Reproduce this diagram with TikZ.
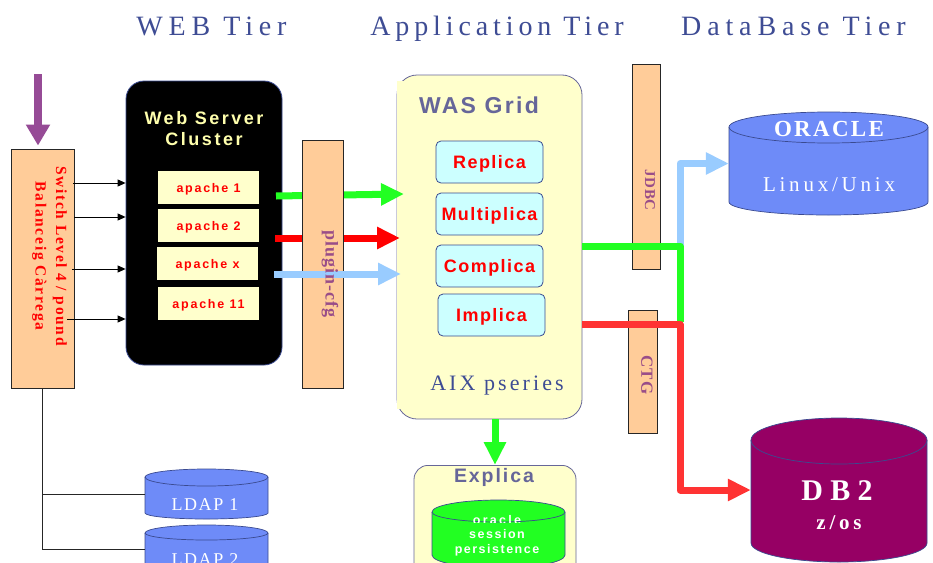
\documentclass[tikz,border=0pt]{standalone}
\usepackage{fontspec}
\setmainfont{Liberation Serif}
\setsansfont{Liberation Sans}
\usetikzlibrary{arrows.meta,calc}
\definecolor{peach}{HTML}{FFCC99}
\definecolor{paleyellow}{HTML}{FFFFCC}
\definecolor{palecyan}{HTML}{CCFFFF}
\definecolor{fatgreen}{HTML}{22FF22}
\definecolor{fatred}{HTML}{FF0000}
\definecolor{dbred}{HTML}{FF3333}
\definecolor{fatblue}{HTML}{99CCFF}
\definecolor{inpurple}{HTML}{964B96}
\definecolor{dbpurple}{HTML}{960064}
\definecolor{ldapblue}{HTML}{6E8BF8}
\definecolor{titleblue}{HTML}{3E4C94}
\definecolor{slate}{HTML}{666699}
\definecolor{edgeblue}{HTML}{3A4A90}
\definecolor{plumtext}{HTML}{994D88}
\newcommand\sansT[2]{\sffamily\bfseries\fontsize{#1}{#1}\selectfont\addfontfeatures{LetterSpace=#2}}
\newcommand\serifT[2]{\rmfamily\fontsize{#1}{#1}\selectfont\addfontfeatures{LetterSpace=#2}}
\newcommand\serifB[2]{\rmfamily\bfseries\fontsize{#1}{#1}\selectfont\addfontfeatures{LetterSpace=#2}}
% name, x1, x2, ytop, ycentre, yfront, yside, ybottom, fill
\newcommand\dbcyl[9]{%
  \pgfmathsetmacro\cylrx{(#3-#2)/2}%
  \pgfmathsetmacro\cylrt{#5-#4}%
  \pgfmathsetmacro\cylrf{#6-#5}%
  \pgfmathsetmacro\cylrb{#8-#7}%
  \path[cylline,fill=#9] (#2,#5) arc[start angle=180,end angle=0,x radius=\cylrx pt,y radius=\cylrt pt]
    -- (#3,#7) arc[start angle=0,end angle=-180,x radius=\cylrx pt,y radius=\cylrb pt] -- cycle;
  \path[cylline] (#2,#5) arc[start angle=180,end angle=360,x radius=\cylrx pt,y radius=\cylrf pt];
  \path (#2,#4) -- (#3,#8) node[midway,inner sep=0pt,minimum width=#3pt-#2pt,minimum height=#8pt-#4pt] (#1) {};
}
\tikzset{
  cylline/.style={draw=edgeblue,line width=0.7pt},
  title/.style={inner sep=0pt,anchor=base,text=titleblue},
  peachbar/.style={draw=black!85,line width=0.9pt,fill=peach,inner sep=0pt},
  apachebox/.style={fill=paleyellow,inner sep=0pt,minimum width=101pt,minimum height=33pt,text height=9pt,text depth=0pt,text=red,font=\sansT{12.5}{14}},
  wasbox/.style={draw=edgeblue,line width=0.8pt,fill=palecyan,rounded corners=5pt,inner sep=0pt,minimum width=107pt,minimum height=42pt,text height=13pt,text depth=0pt,text=red,font=\sansT{18}{8}},
  thinarrow/.style={draw=black,line width=0.9pt,-{Triangle[length=8pt,width=7pt]}},
  fatarrow/.style={line width=7pt,line join=round,-{Triangle[length=23pt,width=21pt]}},
  plainline/.style={draw=black!85,line width=1pt},
  lbl/.style={inner sep=0pt},
}
\begin{document}
\begin{tikzpicture}[x=1pt,y=-1pt]
\useasboundingbox (0,0) rectangle (933,562);
\clip (0,0) rectangle (933,562);
\fill[white] (0,0) rectangle (933,562);

% titles
\node[title,font=\serifT{28}{21}] (t1) at (211.5,35) {WEB Tier};
\node[title,font=\serifT{28}{17.5}] (t2) at (497,35) {Application Tier};
\node[title,font=\serifT{28}{21}] (t3) at (793.5,35) {DataBase Tier};

% switch
\node[peachbar,minimum width=62.5pt,minimum height=239pt] (switch) at (42.75,268.5) {};
\node[lbl,rotate=-90,align=center,text=red,font=\serifB{15.5}{11}] (swtxt) at (49.5,256) {Switch Level 4 / pound\\[5pt]Balanceig Càrrega};
\coordinate (entry) at (38,74);
\draw[line width=8pt,draw=inpurple,shorten >=3pt,-{Triangle[length=21pt,width=23pt]}] (entry) -- (entry |- switch.north);

% web cluster
\node[draw=edgeblue,line width=0.8pt,fill=black,rounded corners=18pt,minimum width=156pt,minimum height=284pt,inner sep=0pt] (cluster) at (204,223) {};
\node[lbl,align=center,text=paleyellow!85!yellow,font=\sansT{18}{14}] (cltxt) at (204,129) {Web Server\\[3pt]Cluster};
\node[apachebox] (a1) at (208.5,187.5) {apache 1};
\node[apachebox] (a2) at (208.5,225.5) {apache 2};
\node[apachebox] (a3) at (207.5,263.5) {apache x};
\node[apachebox] (a4) at (208.5,303.5) {apache 11};

% thin arrows
\coordinate (s1) at (73,183);
\coordinate (s2) at (74,217);
\coordinate (s3) at (72,269);
\coordinate (s4) at (67,319);
\draw[thinarrow] (s1) -- (s1 -| cluster.west);
\draw[thinarrow] (s2) -- (s2 -| cluster.west);
\draw[thinarrow] (s3) -- (s3 -| cluster.west);
\draw[thinarrow] (s4) -- (s4 -| cluster.west);

% was grid
\node[draw=slate,line width=0.8pt,fill=paleyellow,rounded corners=20pt,minimum width=185pt,minimum height=344pt,inner sep=0pt] (was) at (489.5,247) {};
\fill[paleyellow] (396.5,81) rectangle (412,409);
\node[lbl,text=slate,font=\sansT{23}{10}] (wastxt) at (479,105) {WAS Grid};
\node[wasbox] (b1) at (489.5,162) {Replica};
\node[wasbox] (b2) at (489.5,214) {Multiplica};
\node[wasbox] (b3) at (489.5,266) {Complica};
\node[wasbox] (b4) at (491.5,315) {Implica};
\node[lbl,text=titleblue,font=\serifT{22}{14}] (aix) at (497,386) {AIX pseries};

% fat arrows web to was (red and green pass behind the plugin bar)
\coordinate (g0) at (276,196);
\coordinate (g1) at (404,194);
\coordinate (r0) at (275,238);
\coordinate (r1) at (400,238);
\coordinate (u0) at (274,274);
\coordinate (u1) at (401,274);
\draw[fatarrow,fatgreen] (g0) -- (g1);
\draw[fatarrow,fatred] (r0) -- (r1);
\node[peachbar,minimum width=41pt,minimum height=248pt] (plugin) at (322.5,264) {};
\draw[fatarrow,fatblue] (u0) -- (u1);
\node[lbl,rotate=-90,text=plumtext,font=\serifB{18}{6}] (plugtxt) at (330,274) {plugin-cfg};

% jdbc / ctg
\node[peachbar,minimum width=28pt,minimum height=205pt] (jdbc) at (646,166.5) {};
\node[lbl,rotate=-90,text=plumtext,font=\serifB{15}{4}] (jdbctxt) at (650,190) {JDBC};
\node[peachbar,minimum width=29pt,minimum height=123pt] (ctg) at (642.5,371.5) {};
\node[lbl,rotate=-90,text=plumtext,font=\serifB{17}{5}] (ctgtxt) at (647,375) {CTG};

% databases
\dbcyl{oracle}{729}{928}{112}{127}{143}{202}{215}{ldapblue}
\node[lbl,text=white,font=\serifB{23}{10}] (oratxt) at (829,129) {ORACLE};
\node[lbl,text=white,font=\serifT{21}{18}] (linux) at (829,185) {Linux/Unix};
\dbcyl{db2}{751}{927}{418}{440}{464}{543}{562}{dbpurple}
\node[lbl,text=white,font=\serifB{30}{24}] (dbtxt) at (837,491) {DB2};
\node[lbl,text=white,font=\serifB{21}{18}] (zos) at (839,523) {z/os};

% fat connectors to databases
\coordinate (gs) at (was.east |- 0,246);
\coordinate (rs) at (was.east |- 0,324);
\coordinate (gj) at (680,246);
\coordinate (rj) at (680,324);
\draw[fatarrow,fatblue] (gj) -- (gj |- oracle.west) -- (oracle.west);
\draw[line width=7pt,line join=round,fatgreen] (gs) -- (gj) -- ($(rj)+(0,-2)$);
\draw[fatarrow,dbred] (rs) -- (rj) -- (rj |- db2.west) -- (db2.west);

% explica
\node[draw=slate,line width=0.8pt,fill=paleyellow,rounded corners=14pt,minimum width=162pt,minimum height=130pt,inner sep=0pt,anchor=north] (explica) at (495,465) {};
\draw[fatarrow,fatgreen] (explica.north |- was.south) -- (explica.north);
\node[lbl,text=slate,font=\sansT{19.5}{10}] (exptxt) at (494,477) {Explica};
\dbcyl{orcl}{432}{565}{500}{512}{522}{555}{568}{fatgreen}
\begin{scope}
\clip (432,500) rectangle (565,522);
\node[lbl,text=white,font=\sansT{12.5}{18}] (orcltxt) at (497,520) {oracle};
\end{scope}
\node[lbl,text=white,font=\sansT{12.5}{12}] (sess) at (497,534) {session};
\node[lbl,text=white,font=\sansT{12.5}{12}] (pers) at (497,550) {persistence};

% ldap
\dbcyl{ldapa}{145}{268}{469}{477}{486}{513}{519}{ldapblue}
\node[lbl,text=white,font=\serifT{18}{9}] (ltxta) at (205,505) {LDAP 1};
\dbcyl{ldapb}{145}{268}{525}{533}{540}{567}{573}{ldapblue}
\node[lbl,text=white,font=\serifT{18}{9}] (ltxtb) at (205,560) {LDAP 2};
\draw[plainline] (switch.south) -- (switch.south |- ldapb.west) -- (ldapb.west);
\draw[plainline] (switch.south |- ldapa.west) -- (ldapa.west);
\end{tikzpicture}
\end{document}
